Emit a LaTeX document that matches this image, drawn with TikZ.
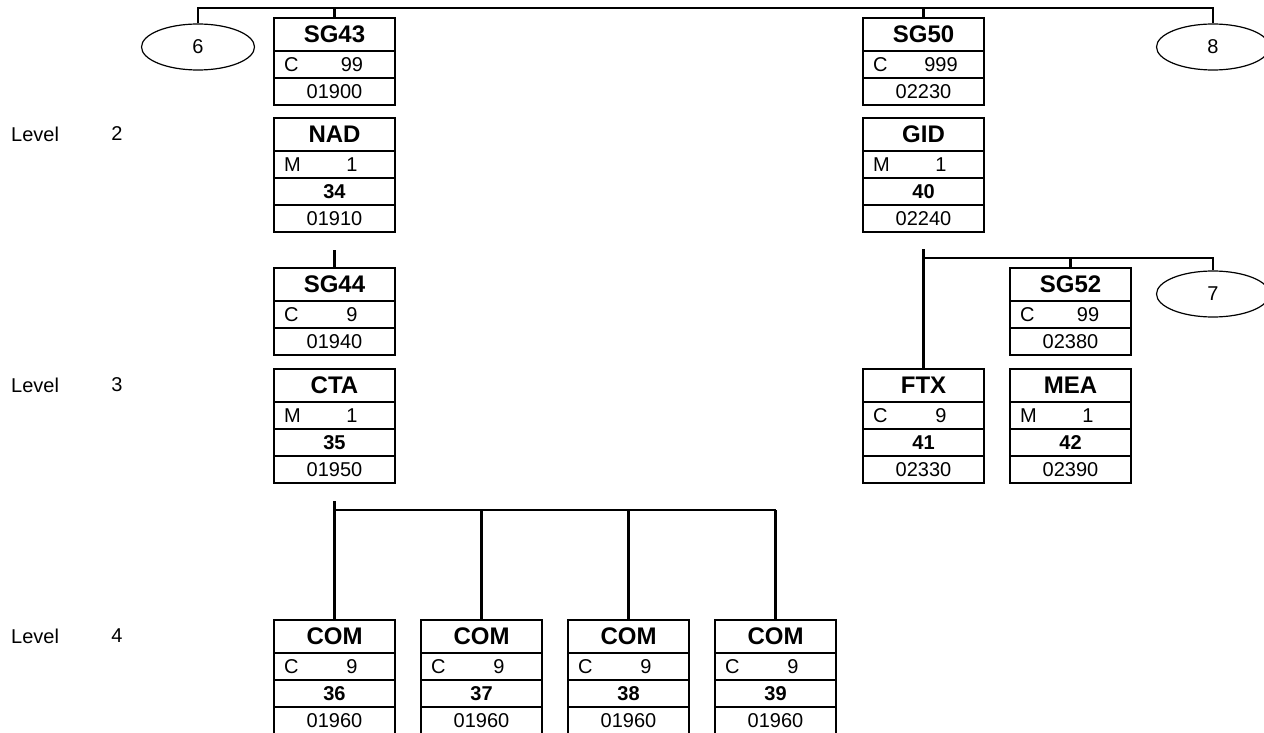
\documentclass[tikz,border=0pt]{standalone}
\usepackage{fontspec}
\setmainfont{Liberation Sans}
\usetikzlibrary{shapes.geometric}

% group box: name, left, top, tag, status, repeat, position
\newcommand{\grpbox}[7]{%
\node[boxframe,minimum height=87bp] (#1) at (#2+60.5,#3+43.5) {};
\draw[rowline] (#2,#3+33) -- (#2+121,#3+33);
\draw[rowline] (#2,#3+60) -- (#2+121,#3+60);
\node[tagtext] (#1-tag) at (#2+60.5,#3+16.5) {#4};
\node[celltext,anchor=west] (#1-st) at (#2+10,#3+46.5) {#5};
\node[celltext] (#1-rep) at (#2+78,#3+46.5) {#6};
\node[celltext] (#1-pos) at (#2+60.5,#3+73.5) {#7};
}

% segment box: name, left, top, tag, status, repeat, number, position
\newcommand{\segbox}[8]{%
\node[boxframe,minimum height=114bp] (#1) at (#2+60.5,#3+57) {};
\draw[rowline] (#2,#3+33) -- (#2+121,#3+33);
\draw[rowline] (#2,#3+60) -- (#2+121,#3+60);
\draw[rowline] (#2,#3+87) -- (#2+121,#3+87);
\node[tagtext] (#1-tag) at (#2+60.5,#3+16.5) {#4};
\node[celltext,anchor=west] (#1-st) at (#2+10,#3+46.5) {#5};
\node[celltext] (#1-rep) at (#2+78,#3+46.5) {#6};
\node[numtext] (#1-num) at (#2+60.5,#3+73.5) {#7};
\node[celltext] (#1-pos) at (#2+60.5,#3+100.5) {#8};
}

\begin{document}
\begin{tikzpicture}[x=1bp,y=-1bp,
  boxframe/.style={draw,line width=2bp,minimum width=121bp,inner sep=0pt,outer sep=0pt},
  rowline/.style={line width=1.8bp},
  conn/.style={line width=2.2bp},
  tagtext/.style={font=\fontsize{24bp}{28bp}\selectfont\bfseries,inner sep=0pt},
  numtext/.style={font=\fontsize{20bp}{24bp}\selectfont\bfseries,inner sep=0pt},
  celltext/.style={font=\fontsize{20bp}{24bp}\selectfont,inner sep=0pt},
  linkoval/.style={draw,ellipse,line width=1.2bp,minimum width=113bp,minimum height=46bp,inner sep=0pt,font=\fontsize{20bp}{24bp}\selectfont}]
\useasboundingbox (0,0) rectangle (1264,733);

\node[celltext,anchor=west] (lvl2) at (11,134) {Level};
\node[celltext] (lvl2n) at (117,134) {2};
\node[celltext,anchor=west] (lvl3) at (11,385) {Level};
\node[celltext] (lvl3n) at (117,385) {3};
\node[celltext,anchor=west] (lvl4) at (11,636) {Level};
\node[celltext] (lvl4n) at (117,636) {4};

\node[linkoval] (ov6) at (198,47) {6};
\node[linkoval] (ov8) at (1213,47) {8};
\node[linkoval] (ov7) at (1213,294) {7};

\grpbox{sg43}{274}{18}{SG43}{C}{99}{01900}
\segbox{nad}{274}{118}{NAD}{M}{1}{34}{01910}
\grpbox{sg44}{274}{268}{SG44}{C}{9}{01940}
\segbox{cta}{274}{369}{CTA}{M}{1}{35}{01950}
\segbox{com1}{274}{620}{COM}{C}{9}{36}{01960}
\segbox{com2}{421}{620}{COM}{C}{9}{37}{01960}
\segbox{com3}{568}{620}{COM}{C}{9}{38}{01960}
\segbox{com4}{715}{620}{COM}{C}{9}{39}{01960}
\grpbox{sg50}{863}{18}{SG50}{C}{999}{02230}
\segbox{gid}{863}{118}{GID}{M}{1}{40}{02240}
\grpbox{sg52}{1010}{268}{SG52}{C}{99}{02380}
\segbox{ftx}{863}{369}{FTX}{C}{9}{41}{02330}
\segbox{mea}{1010}{369}{MEA}{M}{1}{42}{02390}

\coordinate (topbar) at (0,8);
\draw[conn] (ov6.north) -- (ov6.north |- topbar) -- (ov8.north |- topbar) -- (ov8.north);
\draw[conn] (sg43.north) -- (sg43.north |- topbar);
\draw[conn] (sg50.north) -- (sg50.north |- topbar);

\coordinate (nadstub) at (sg44.north |- 0,250);
\draw[conn] (nadstub) -- (sg44.north);

\coordinate (gidstub) at (ftx.north |- 0,249);
\coordinate (gidbar) at (0,258);
\draw[conn] (gidstub) -- (ftx.north);
\draw[conn] (ftx.north |- gidbar) -- (ov7.north |- gidbar) -- (ov7.north);
\draw[conn] (sg52.north) -- (sg52.north |- gidbar);

\coordinate (ctastub) at (com1.north |- 0,501);
\coordinate (ctabar) at (0,510);
\draw[conn] (ctastub) -- (com1.north);
\draw[conn] (com1.north |- ctabar) -- (com4.north |- ctabar);
\draw[conn] (com2.north) -- (com2.north |- ctabar);
\draw[conn] (com3.north) -- (com3.north |- ctabar);
\draw[conn] (com4.north) -- (com4.north |- ctabar);
\end{tikzpicture}
\end{document}
